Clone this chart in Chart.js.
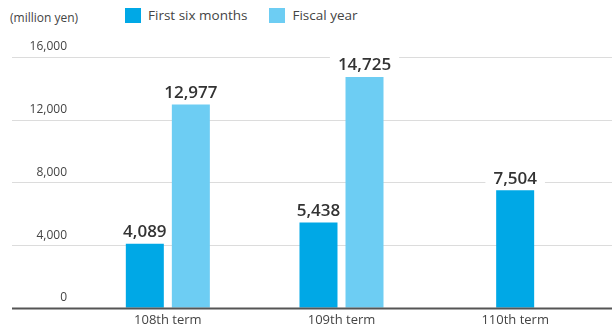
<!DOCTYPE html>
<html>
<head>
<meta charset="utf-8">
<script src="https://cdn.jsdelivr.net/npm/chart.js@4"></script>
<style>
  html, body { margin: 0; padding: 0; background: #fff; }
  #wrap { position: relative; width: 612px; height: 329px; font-family: "Open Sans", sans-serif; color: #444; }
  #unit { position: absolute; left: 10px; top: 9px; font-size: 12px; }
  #legend { position: absolute; left: 125px; top: 6px; display: flex; font-size: 13.5px; }
  #legend span.item { display: flex; align-items: center; margin-right: 22px; }
  #legend i { display: inline-block; width: 16px; height: 15px; margin-right: 7px; }
  canvas { position: absolute; left: 0; top: 0; }
</style>
</head>
<body>
<div id="wrap">
  <div id="unit">(million yen)</div>
  <div id="legend"></div>
  <canvas id="c" width="612" height="329"></canvas>
</div>
<script>
// data
const terms = ['108th term', '109th term', '110th term'];
const firstSix = [4089, 5438, 7504];
const fiscalYear = [12977, 14725, null];
const yTicks = [0, 4000, 8000, 12000, 16000];

const seriesNames = ['First six months', 'Fiscal year'];
const colors = ['#00a8e6', '#6dcdf3'];

// html legend
const legend = document.getElementById('legend');
seriesNames.forEach((name, i) => {
  const s = document.createElement('span');
  s.className = 'item';
  s.innerHTML = `<i style="background:${colors[i]}"></i>${name}`;
  legend.appendChild(s);
});

const labelFont = '600 17px "Open Sans", sans-serif';

function eachLabel(chart, fn) {
  chart.data.datasets.forEach((ds, di) => {
    chart.getDatasetMeta(di).data.forEach((bar, i) => {
      const v = ds.data[i];
      if (v == null) return;
      fn(bar, v.toLocaleString('en-US'));
    });
  });
}

// grid lines running past the plot area, baseline on top
const gridPlugin = {
  id: 'grid',
  beforeDatasetsDraw(chart) {
    const { ctx, scales: { y } } = chart;
    ctx.save();
    yTicks.forEach(v => {
      if (v === 0) return;
      const py = Math.round(y.getPixelForValue(v)) + 0.5;
      ctx.strokeStyle = '#dcdcdc';
      ctx.lineWidth = 1;
      ctx.beginPath();
      ctx.moveTo(12, py);
      ctx.lineTo(612, py);
      ctx.stroke();
    });
    // white backing behind value labels so grid lines break there
    ctx.font = labelFont;
    ctx.fillStyle = '#fff';
    eachLabel(chart, (bar, txt) => {
      const w = ctx.measureText(txt).width;
      ctx.fillRect(bar.x - w / 2 - 8, bar.y - 22, w + 16, 18);
    });
    ctx.restore();
  },
  afterDatasetsDraw(chart) {
    const { ctx, scales: { y } } = chart;
    ctx.save();
    const py = Math.round(y.getPixelForValue(0)) + 0.5;
    ctx.strokeStyle = '#555';
    ctx.lineWidth = 2;
    ctx.beginPath();
    ctx.moveTo(12, py);
    ctx.lineTo(612, py);
    ctx.stroke();

    ctx.font = labelFont;
    ctx.textAlign = 'center';
    ctx.textBaseline = 'bottom';
    ctx.fillStyle = '#333';
    eachLabel(chart, (bar, txt) => ctx.fillText(txt, bar.x, bar.y - 3));
    ctx.restore();
  }
};

new Chart(document.getElementById('c'), {
  type: 'bar',
  data: {
    labels: terms,
    datasets: [
      { label: seriesNames[0], data: firstSix, backgroundColor: colors[0] },
      { label: seriesNames[1], data: fiscalYear, backgroundColor: colors[1] }
    ]
  },
  options: {
    responsive: false,
    animation: false,
    skipNull: true,
    maxBarThickness: 38,
    categoryPercentage: 0.53,
    barPercentage: 0.826,
    layout: { padding: { top: 57, right: 10, left: 0, bottom: 0 } },
    plugins: { legend: { display: false }, tooltip: { enabled: false } },
    scales: {
      x: {
        grid: { display: false, drawTicks: false },
        border: { display: false },
        ticks: { color: '#444', font: { family: 'Open Sans', size: 13 }, padding: 5 },
        afterFit: s => { s.height = 20; }
      },
      y: {
        min: 0,
        max: 16000,
        grid: { display: false, drawTicks: false },
        border: { display: false },
        afterFit: s => { s.width = 81; },
        afterBuildTicks: s => { s.ticks = yTicks.map(v => ({ value: v })); },
        ticks: {
          color: '#444',
          font: { family: 'Open Sans', size: 12 },
          padding: 14,
          labelOffset: -10,
          callback: v => v.toLocaleString('en-US')
        }
      }
    }
  },
  plugins: [gridPlugin]
});
</script>
</body>
</html>
